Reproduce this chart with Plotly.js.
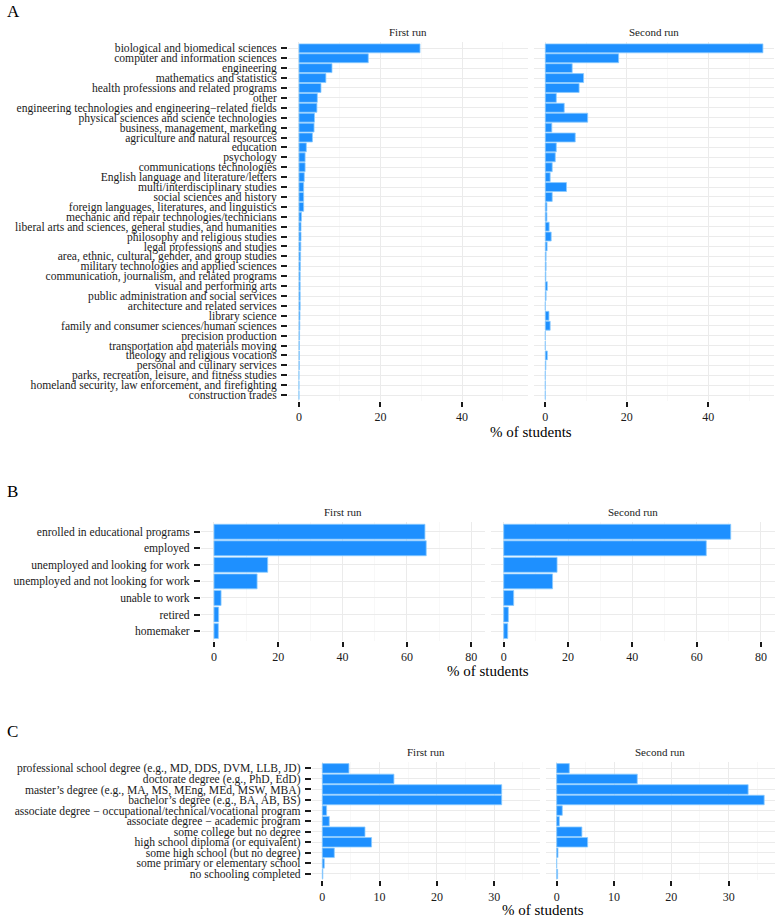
<!DOCTYPE html>
<html>
<head>
<meta charset="utf-8">
<script src="https://cdn.plot.ly/plotly-3.0.1.min.js"></script>
<style>html,body{margin:0;padding:0;background:#fff;}#chart{width:779px;height:922px;}</style>
</head>
<body>
<div id="chart"></div>
<script>
// ---------- Panel A: field of study ----------
const fieldCategories = [
  "biological and biomedical sciences",
  "computer and information sciences",
  "engineering",
  "mathematics and statistics",
  "health professions and related programs",
  "other",
  "engineering technologies and engineering\u2212related fields",
  "physical sciences and science technologies",
  "business, management, marketing",
  "agriculture and natural resources",
  "education",
  "psychology",
  "communications technologies",
  "English language and literature/letters",
  "multi/interdisciplinary studies",
  "social sciences and history",
  "foreign languages, literatures, and linguistics",
  "mechanic and repair technologies/technicians",
  "liberal arts and sciences, general studies, and humanities",
  "philosophy and religious studies",
  "legal professions and studies",
  "area, ethnic, cultural, gender, and group studies",
  "military technologies and applied sciences",
  "communication, journalism, and related programs",
  "visual and performing arts",
  "public administration and social services",
  "architecture and related services",
  "library science",
  "family and consumer sciences/human sciences",
  "precision production",
  "transportation and materials moving",
  "theology and religious vocations",
  "personal and culinary services",
  "parks, recreation, leisure, and fitness studies",
  "homeland security, law enforcement, and firefighting",
  "construction trades"
];
const fieldFirstRun = [29.7, 17.0, 8.1, 6.6, 5.4, 4.5, 4.4, 3.8, 3.7, 3.3, 1.8, 1.5, 1.5, 1.3, 1.15, 1.15, 1.15, 0.6, 0.5, 0.5, 0.45, 0.4, 0.35, 0.3, 0.3, 0.3, 0.3, 0.25, 0.2, 0.15, 0.1, 0.1, 0.08, 0, 0, 0];
const fieldSecondRun = [53.4, 18.0, 6.6, 9.4, 8.3, 2.7, 4.65, 10.4, 1.6, 7.35, 2.7, 2.45, 1.7, 1.2, 5.2, 1.7, 0.4, 0.4, 0.95, 1.45, 0.45, 0.2, 0.2, 0.15, 0.5, 0.2, 0, 0.9, 1.2, 0, 0, 0.5, 0.15, 0, 0, 0];
const fieldTicks = [0, 20, 40];

// ---------- Panel B: employment status ----------
const statusCategories = [
  "enrolled in educational programs",
  "employed",
  "unemployed and looking for work",
  "unemployed and not looking for work",
  "unable to work",
  "retired",
  "homemaker"
];
const statusFirstRun = [65.6, 66.0, 16.7, 13.4, 2.2, 1.45, 1.35];
const statusSecondRun = [70.6, 63.0, 16.6, 15.2, 3.1, 1.45, 1.25];
const statusTicks = [0, 20, 40, 60, 80];

// ---------- Panel C: education ----------
const degreeCategories = [
  "professional school degree (e.g., MD, DDS, DVM, LLB, JD)",
  "doctorate degree (e.g., PhD, EdD)",
  "master\u2019s degree (e.g., MA, MS, MEng, MEd, MSW, MBA)",
  "bachelor\u2019s degree (e.g., BA, AB, BS)",
  "associate degree \u2212 occupational/technical/vocational program",
  "associate degree \u2212 academic program",
  "some college but no degree",
  "high school diploma (or equivalent)",
  "some high school (but no degree)",
  "some primary or elementary school",
  "no schooling completed"
];
const degreeFirstRun = [4.65, 12.5, 31.3, 31.3, 0.76, 1.22, 7.45, 8.6, 2.1, 0.35, 0.1];
const degreeSecondRun = [2.2, 14.06, 33.4, 36.2, 0.98, 0.46, 4.4, 5.4, 0.23, 0, 0.17];
const degreeTicks = [0, 10, 20, 30];

const runLabels = ["First run", "Second run"];
const panelLetters = ["A", "B", "C"];
const axisTitle = "% of students";

// ---------- layout geometry (pixels) ----------
const W = 779, H = 922;
const FONT = "Liberation Serif, Times New Roman, serif";
const panels = [
  {cats: fieldCategories, runs: [fieldFirstRun, fieldSecondRun], ticks: fieldTicks, minor: 10,
   range: [-2.67, 56.07], xs: [[288.1, 527.5], [534.4, 773.8]], ys: [42.4, 401.0],
   strip: 32, title: 432, letterY: 11},
  {cats: statusCategories, runs: [statusFirstRun, statusSecondRun], ticks: statusTicks, minor: 10,
   range: [-4.04, 84.4], xs: [[201.0, 485.4], [490.7, 775.1]], ys: [521.8, 641.0],
   strip: 512, title: 671, letterY: 491},
  {cats: degreeCategories, runs: [degreeFirstRun, degreeSecondRun], ticks: degreeTicks, minor: 5,
   range: [-1.81, 38.0], xs: [[311.9, 540.1], [546.3, 774.5]], ys: [762.0, 880.3],
   strip: 752, title: 910, letterY: 731}
];

const data = [];
const layout = {
  width: W, height: H,
  margin: {l: 0, r: 0, t: 0, b: 0},
  paper_bgcolor: "#ffffff", plot_bgcolor: "#ffffff",
  showlegend: false,
  bargap: 0.1,
  font: {family: FONT, color: "#1a1a1a", size: 12},
  annotations: []
};

let idx = 0;
panels.forEach((p, pi) => {
  const n = p.cats.length;
  p.runs.forEach((vals, ri) => {
    idx++;
    const xk = idx === 1 ? "xaxis" : "xaxis" + idx;
    const yk = idx === 1 ? "yaxis" : "yaxis" + idx;
    const xr = idx === 1 ? "x" : "x" + idx;
    const yr = idx === 1 ? "y" : "y" + idx;
    data.push({
      type: "bar", orientation: "h",
      x: vals, y: p.cats, xaxis: xr, yaxis: yr,
      marker: {color: "#1E90FF", line: {color: "#8CCBFF", width: 0.8}},
      hoverinfo: "x+y"
    });
    layout[xk] = {
      domain: [p.xs[ri][0] / W, p.xs[ri][1] / W],
      anchor: yr,
      range: p.range,
      tickmode: "array", tickvals: p.ticks,
      ticks: "outside", ticklen: 5, tickwidth: 2, tickcolor: "#1a1a1a",
      tickfont: {family: FONT, size: 12, color: "#1a1a1a"},
      showgrid: true, gridcolor: "#EBEBEB", gridwidth: 1,
      minor: {dtick: p.minor, tick0: 0, showgrid: true, gridcolor: "#F4F4F4", gridwidth: 0.6, ticks: ""},
      zeroline: false, showline: false, fixedrange: true
    };
    layout[yk] = {
      domain: [1 - p.ys[1] / H, 1 - p.ys[0] / H],
      anchor: xr,
      type: "category", categoryorder: "array", categoryarray: p.cats,
      tickmode: "array", tickvals: p.cats, ticktext: p.cats,
      range: [n - 0.4, -0.6],
      showticklabels: ri === 0,
      ticks: ri === 0 ? "outside" : "",
      ticklen: 6, tickwidth: 2, tickcolor: "#1a1a1a",
      ticklabelstandoff: 2,
      tickfont: {family: FONT, size: 11.6, color: "#1a1a1a"},
      showgrid: true, gridcolor: "#EBEBEB", gridwidth: 1,
      zeroline: false, showline: false, fixedrange: true
    };
    layout.annotations.push({
      text: runLabels[ri], xref: "paper", yref: "paper",
      x: (p.xs[ri][0] + p.xs[ri][1]) / 2 / W, y: 1 - p.strip / H,
      xanchor: "center", yanchor: "middle", showarrow: false,
      font: {family: FONT, size: 11, color: "#1a1a1a"}
    });
  });
  layout.annotations.push({
    text: axisTitle, xref: "paper", yref: "paper",
    x: (p.xs[0][0] + p.xs[1][1]) / 2 / W, y: 1 - p.title / H,
    xanchor: "center", yanchor: "middle", showarrow: false,
    font: {family: FONT, size: 15, color: "#000"}
  });
  layout.annotations.push({
    text: panelLetters[pi], xref: "paper", yref: "paper",
    x: 5 / W, y: 1 - p.letterY / H,
    xanchor: "left", yanchor: "middle", showarrow: false,
    font: {family: FONT, size: 17, color: "#000"}
  });
});

Plotly.newPlot("chart", data, layout, {displayModeBar: false, staticPlot: true});
</script>
</body>
</html>
